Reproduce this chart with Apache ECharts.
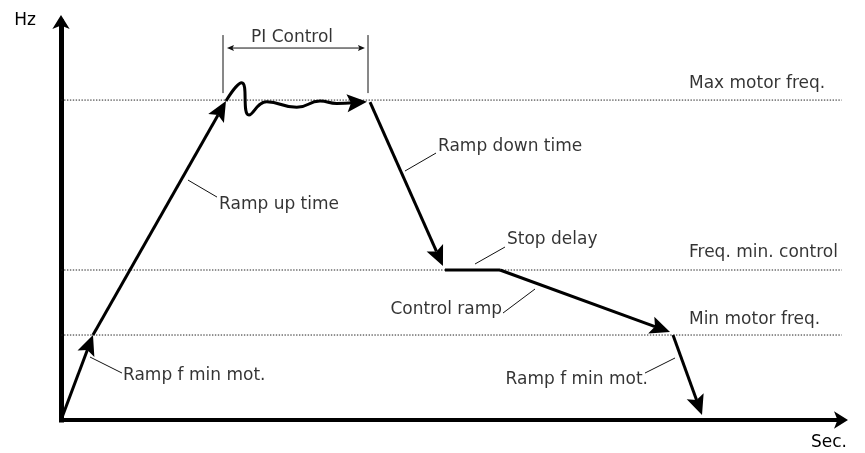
<!DOCTYPE html>
<html><head><meta charset="utf-8">
<script src="https://cdn.jsdelivr.net/npm/echarts@6/dist/echarts.min.js"></script>
<style>html,body{margin:0;padding:0;background:#fff}#c{width:865px;height:453px}</style>
</head><body><div id="c"></div>
<script>
// ---- axis ranges (time units, Hz) ----
const X_MAX = 100, Y_MAX = 62.2;

// ---- reference frequency levels ----
const levelLabels = ['Max motor freq.', 'Freq. min. control', 'Min motor freq.'];
const levelHz = [50, 23.44, 13.28];
const levelSpan = [-2.95, 100.1];
const levelLabelX = [80.51, 80.51, 80.51];
const levelLabelY = [52.5, 26.09, 15.63];

// ---- main ramp segments ending with an arrow head: [x1, y1, x2, y2] ----
const rampArrows = [
  [0, 0, 4.10, 13.28],
  [4.10, 13.28, 21.15, 49.84],
  [37.44, 49.58, 39.23, 49.73],
  [39.62, 49.69, 48.97, 24.06],
  [56.28, 23.44, 78.08, 13.75],
  [78.46, 13.28, 82.18, 0.78]
];
// ---- PI control oscillation ----
const piWaveX = [21.15, 23.17, 24.10, 26.37, 30.22, 33.21, 35.35, 37.44];
const piWaveY = [49.84, 52.70, 47.66, 49.73, 48.86, 49.84, 49.48, 49.58];
// ---- stop delay plateau ----
const stopDelayX = [49.23, 56.28];
const stopDelayY = [23.44, 23.44];

// ---- annotation leader lines: [x1, y1, x2, y2] ----
const leaderLines = [
  [3.72, 9.84, 7.82, 7.34],
  [16.28, 37.5, 20.0, 34.84],
  [44.10, 38.91, 48.08, 41.72],
  [53.08, 24.38, 56.92, 27.03],
  [56.67, 16.72, 60.77, 20.47],
  [74.87, 7.34, 78.72, 9.69]
];
const noteLeftText = ['Ramp f min mot.', 'Ramp up time', 'Ramp down time', 'Stop delay'];
const noteLeftX = [7.95, 20.26, 48.33, 57.18];
const noteLeftY = [6.88, 33.59, 42.66, 28.13];
const noteRightText = ['Control ramp', 'Ramp f min mot.'];
const noteRightX = [56.54, 75.26];
const noteRightY = [17.19, 6.25];

// ---- PI control bracket ----
const piBracketX = [20.77, 39.36];
const piBracketY = [51.09, 60.16];
const piSpanX = [21.28, 38.97];
const piSpanY = [58.13, 58.13];
const piText = ['PI Control'];
const piTextX = [29.62];
const piTextY = [59.69];

// ================= rendering =================
const FONT = 'DejaVu Sans';
const TXT = '#000';
const FS = 17;

function segRenderer(lineWidth, color, headLen, headHalf, startHead, endHead) {
  return function (params, api) {
    const p1 = api.coord([api.value(0), api.value(1)]);
    const p2 = api.coord([api.value(2), api.value(3)]);
    const dx = p2[0] - p1[0], dy = p2[1] - p1[1];
    const L = Math.hypot(dx, dy) || 1;
    const ux = dx / L, uy = dy / L, nx = -uy, ny = ux;
    const children = [];
    let a = p1.slice(), b = p2.slice();
    function head(tip, dirx, diry) {
      const base = [tip[0] - dirx * headLen, tip[1] - diry * headLen];
      const notch = [tip[0] - dirx * headLen * 0.8, tip[1] - diry * headLen * 0.8];
      children.push({
        type: 'polygon',
        shape: { points: [tip, [base[0] + nx * headHalf, base[1] + ny * headHalf], notch,
                          [base[0] - nx * headHalf, base[1] - ny * headHalf]] },
        style: { fill: color }
      });
      return notch;
    }
    if (endHead) b = head(p2, ux, uy);
    if (startHead) a = head(p1, -ux, -uy);
    children.unshift({
      type: 'line',
      shape: { x1: a[0], y1: a[1], x2: b[0], y2: b[1] },
      style: { stroke: color, lineWidth: lineWidth, lineCap: 'butt' }
    });
    return { type: 'group', children: children };
  };
}

const series = [];
levelHz.forEach(function (v) {
  series.push({
    type: 'line', silent: true, symbol: 'none', clip: false, z: 1,
    data: [[levelSpan[0], v], [levelSpan[1], v]],
    lineStyle: { color: '#222', width: 1, type: [1.4, 1.5] }
  });
});
series.push({
  type: 'line', silent: true, symbol: 'none', smooth: 0.5, z: 3,
  data: piWaveX.map(function (x, i) { return [x, piWaveY[i]]; }),
  lineStyle: { color: '#000', width: 3 }
});
series.push({
  type: 'line', silent: true, symbol: 'none', z: 3,
  data: stopDelayX.map(function (x, i) { return [x, stopDelayY[i]]; }),
  lineStyle: { color: '#000', width: 3 }
});
series.push({
  type: 'custom', silent: true, z: 4,
  renderItem: segRenderer(3, '#000', 20, 9, false, true),
  encode: { x: [0, 2], y: [1, 3] },
  data: rampArrows
});
series.push({
  type: 'custom', silent: true, z: 2,
  renderItem: segRenderer(1, '#111', 0, 0, false, false),
  encode: { x: [0, 2], y: [1, 3] },
  data: leaderLines
});
series.push({
  type: 'custom', silent: true, z: 2,
  renderItem: segRenderer(1, '#111', 0, 0, false, false),
  encode: { x: [0, 2], y: [1, 3] },
  data: piBracketX.map(function (x) { return [x, piBracketY[0], x, piBracketY[1]]; })
});
series.push({
  type: 'custom', silent: true, z: 2,
  renderItem: segRenderer(1, '#111', 7, 3, true, true),
  encode: { x: [0, 2], y: [1, 3] },
  data: [[piSpanX[0], piSpanY[0], piSpanX[1], piSpanY[1]]]
});

function labelSeries(texts, xs, ys, position) {
  return {
    type: 'scatter', silent: true, symbolSize: 0, clip: false, z: 5,
    data: texts.map(function (t, i) { return { name: t, value: [xs[i], ys[i]] }; }),
    label: {
      show: true, position: position, distance: 0,
      formatter: function (p) { return p.name; },
      fontFamily: FONT, fontSize: FS, color: TXT
    }
  };
}
series.push(labelSeries(noteLeftText, noteLeftX, noteLeftY, 'right'));
series.push(labelSeries(noteRightText, noteRightX, noteRightY, 'left'));
series.push(labelSeries(levelLabels, levelLabelX, levelLabelY, 'right'));
series.push(labelSeries(piText, piTextX, piTextY, 'inside'));

const chart = echarts.init(document.getElementById('c'), null, { renderer: 'canvas' });
chart.setOption({
  animation: false,
  backgroundColor: '#fff',
  grid: { left: 61, right: 24, top: 22, bottom: 33, containLabel: false, outerBoundsMode: 'none' },
  xAxis: {
    type: 'value', min: 0, max: X_MAX,
    name: 'Sec.', nameLocation: 'end', nameGap: -12,
    nameTextStyle: { fontFamily: FONT, fontSize: FS, color: TXT, align: 'center', verticalAlign: 'top', lineHeight: 46 },
    axisLine: { show: true, onZero: false, symbol: ['none', 'arrow'], symbolSize: [13, 14], symbolOffset: [0, 7],
      lineStyle: { color: '#000', width: 4, cap: 'square' } },
    axisTick: { show: false }, axisLabel: { show: false }, splitLine: { show: false }
  },
  yAxis: {
    type: 'value', min: 0, max: Y_MAX,
    name: 'Hz', nameLocation: 'end', nameGap: 1,
    nameTextStyle: { fontFamily: FONT, fontSize: FS, color: TXT, align: 'right', verticalAlign: 'middle', padding: [0, 25, 0, 0] },
    axisLine: { show: true, onZero: false, symbol: ['none', 'arrow'], symbolSize: [13, 14], symbolOffset: [0, 7],
      lineStyle: { color: '#000', width: 5, cap: 'square' } },
    axisTick: { show: false }, axisLabel: { show: false }, splitLine: { show: false }
  },
  series: series
});
</script></body></html>
